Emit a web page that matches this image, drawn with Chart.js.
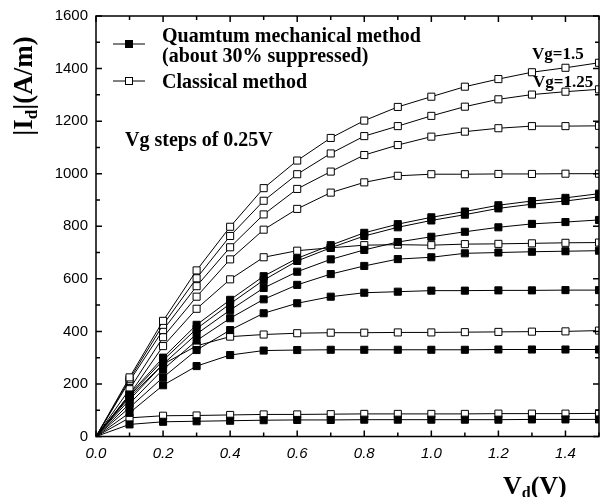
<!DOCTYPE html>
<html>
<head>
<meta charset="utf-8">
<script src="https://cdn.jsdelivr.net/npm/chart.js@4.4.0/dist/chart.umd.min.js"></script>
<style>
  html, body { margin: 0; padding: 0; background: #fff; }
  #wrap { width: 605px; height: 497px; }
</style>
</head>
<body>
<div id="wrap"><canvas id="chart" width="605" height="497"></canvas></div>
<script>
// ===== Data =====
const vd = [0, 0.1, 0.2, 0.3, 0.4, 0.5, 0.6, 0.7, 0.8, 0.9, 1.0, 1.1, 1.2, 1.3, 1.4, 1.5];
const xTicks = [0, 0.2, 0.4, 0.6, 0.8, 1.0, 1.2, 1.4];
const yTicks = [0, 200, 400, 600, 800, 1000, 1200, 1400, 1600];

// classical method (open squares), top curve = Vg 1.5
const classical150 = [0, 225, 440, 632, 798, 945, 1050, 1136, 1202, 1254, 1293, 1331, 1360, 1386, 1403, 1422];
const classical125 = [0, 218, 425, 602, 763, 897, 998, 1077, 1143, 1181, 1220, 1255, 1283, 1301, 1312, 1321];
const classical100 = [0, 211, 405, 572, 720, 845, 942, 1008, 1071, 1109, 1141, 1160, 1173, 1181, 1181, 1182];
const classical075 = [0, 180, 378, 532, 674, 787, 866, 928, 967, 992, 998, 998, 999, 999, 1000, 1000];
const classical050 = [0, 160, 344, 486, 598, 682, 707, 718, 728, 730, 728, 732, 733, 735, 737, 738];
const classical025 = [0, 150, 275, 345, 380, 388, 393, 395, 395, 396, 396, 397, 398, 399, 400, 403];
const classical000 = [0, 71, 79, 80, 82, 84, 84, 85, 86, 86, 86, 86, 87, 87, 87, 88];

// quantum mechanical method (filled squares)
const quantum150 = [0, 160, 300, 425, 520, 610, 678, 728, 775, 808, 834, 856, 880, 896, 908, 924];
const quantum125 = [0, 155, 290, 410, 505, 595, 668, 718, 763, 796, 822, 844, 868, 884, 896, 912];
const quantum100 = [0, 140, 275, 390, 481, 565, 627, 674, 710, 740, 760, 779, 796, 809, 816, 824];
const quantum075 = [0, 125, 255, 365, 450, 522, 577, 618, 649, 675, 682, 697, 700, 703, 705, 707];
const quantum050 = [0, 110, 225, 329, 405, 469, 507, 532, 547, 551, 555, 555, 556, 556, 557, 557];
const quantum025 = [0, 90, 195, 268, 310, 327, 329, 330, 330, 330, 330, 330, 331, 331, 331, 331];
const quantum000 = [0, 46, 56, 58, 60, 62, 63, 63, 64, 64, 64, 64, 64, 65, 65, 65];

const classicalSets = [classical150, classical125, classical100, classical075, classical050, classical025, classical000];
const quantumSets = [quantum150, quantum125, quantum100, quantum075, quantum050, quantum025, quantum000];

const SERIF = '"Liberation Serif", "DejaVu Serif", serif';
const SANS = '"Liberation Sans", Arial, sans-serif';

function makeSet(values, filled) {
  return {
    data: values.map((v, i) => ({ x: vd[i], y: v })),
    borderColor: '#000',
    borderWidth: 1,
    backgroundColor: filled ? '#000' : '#fff',
    pointStyle: 'rect',
    pointRadius: ctx => ctx.dataIndex === 0 ? 0 : 5,
    pointBorderWidth: 1,
    pointBorderColor: '#000',
    pointBackgroundColor: filled ? '#000' : '#fff',
    fill: false,
    tension: 0
  };
}

const datasets = [
  ...quantumSets.map(s => makeSet(s, true)),
  ...classicalSets.map(s => makeSet(s, false))
];

// draws a run of text pieces, some of them as subscripts
function drawRuns(ctx, runs, x, y, align) {
  let total = 0;
  runs.forEach(r => { ctx.font = r.font; total += ctx.measureText(r.text).width; });
  let cx = align === 'center' ? x - total / 2 : x;
  runs.forEach(r => {
    ctx.font = r.font;
    ctx.fillText(r.text, cx, y + (r.dy || 0));
    cx += ctx.measureText(r.text).width;
  });
}

// ===== Frame, inner ticks and annotations =====
const decorPlugin = {
  id: 'decor',
  afterDraw(chart) {
    const { ctx, chartArea: a, scales: { x, y } } = chart;
    ctx.save();
    ctx.strokeStyle = '#000';

    // frame
    ctx.lineWidth = 1.5;
    ctx.strokeRect(a.left, a.top, a.right - a.left, a.bottom - a.top);

    // inward ticks, minor ones half way between labels
    ctx.beginPath();
    for (let i = 0; i < yTicks.length; i++) {
      const vals = [yTicks[i]];
      if (i < yTicks.length - 1) vals.push((yTicks[i] + yTicks[i + 1]) / 2);
      vals.forEach((v, k) => {
        const len = k === 0 ? 6 : 4;
        const py = y.getPixelForValue(v);
        ctx.moveTo(a.left, py); ctx.lineTo(a.left + len, py);
        ctx.moveTo(a.right, py); ctx.lineTo(a.right - len, py);
      });
    }
    for (let i = 0; i < xTicks.length; i++) {
      const vals = [xTicks[i], xTicks[i] + 0.1];
      vals.forEach((v, k) => {
        const len = k === 0 ? 6 : 4;
        const px = x.getPixelForValue(v);
        ctx.moveTo(px, a.bottom); ctx.lineTo(px, a.bottom - len);
        ctx.moveTo(px, a.top); ctx.lineTo(px, a.top + len);
      });
    }
    ctx.stroke();

    ctx.fillStyle = '#000';
    ctx.textBaseline = 'alphabetic';

    // axis titles
    ctx.save();
    ctx.translate(32, 86);
    ctx.rotate(-Math.PI / 2);
    drawRuns(ctx, [
      { text: '|I', font: 'bold 27px ' + SERIF },
      { text: 'd', font: 'bold 17px ' + SERIF, dy: 5 },
      { text: '|(A/m)', font: 'bold 27px ' + SERIF }
    ], 0, 0, 'center');
    ctx.restore();

    drawRuns(ctx, [
      { text: 'V', font: 'bold 26px ' + SERIF },
      { text: 'd', font: 'bold 16px ' + SERIF, dy: 4 },
      { text: '(V)', font: 'bold 26px ' + SERIF }
    ], 503, 494, 'left');

    // legend
    const keys = [{ y: 44, filled: true }, { y: 81, filled: false }];
    keys.forEach(k => {
      ctx.lineWidth = 1;
      ctx.beginPath();
      ctx.moveTo(113, k.y); ctx.lineTo(145, k.y);
      ctx.stroke();
      ctx.fillStyle = k.filled ? '#000' : '#fff';
      ctx.fillRect(125.5, k.y - 3.5, 7, 7);
      ctx.strokeRect(125.5, k.y - 3.5, 7, 7);
    });
    ctx.fillStyle = '#000';
    ctx.font = 'bold 20px ' + SERIF;
    ctx.fillText('Quamtum mechanical method', 162, 42);
    ctx.fillText('(about 30% suppressed)', 162, 62);
    ctx.fillText('Classical method', 162, 88);

    ctx.font = 'bold 20px ' + SERIF;
    ctx.fillText('Vg steps of 0.25V', 125, 146);

    ctx.font = 'bold 17px ' + SERIF;
    ctx.fillText('Vg=1.5', 532, 59);
    ctx.fillText('Vg=1.25', 533, 87);

    ctx.restore();
  }
};

new Chart(document.getElementById('chart'), {
  type: 'line',
  data: { datasets },
  plugins: [decorPlugin],
  options: {
    responsive: false,
    devicePixelRatio: 1,
    animation: false,
    layout: { padding: { top: 16, right: 1, left: 0, bottom: 0 } },
    plugins: { legend: { display: false }, tooltip: { enabled: false } },
    scales: {
      x: {
        type: 'linear',
        min: 0,
        max: 1.5,
        grid: { display: false },
        border: { display: false },
        afterBuildTicks: s => { s.ticks = xTicks.map(v => ({ value: v })); },
        afterFit: s => { s.height = 60.5; },
        ticks: {
          color: '#000',
          padding: 0,
          maxRotation: 0,
          font: { family: SANS, size: 15, style: 'italic' },
          callback: v => v.toFixed(1)
        }
      },
      y: {
        min: 0,
        max: 1600,
        grid: { display: false },
        border: { display: false },
        afterBuildTicks: s => { s.ticks = yTicks.map(v => ({ value: v })); },
        afterFit: s => { s.width = 96; },
        ticks: {
          color: '#000',
          padding: 0,
          font: { family: SANS, size: 15 },
          callback: v => String(v)
        }
      }
    }
  }
});
</script>
</body>
</html>
